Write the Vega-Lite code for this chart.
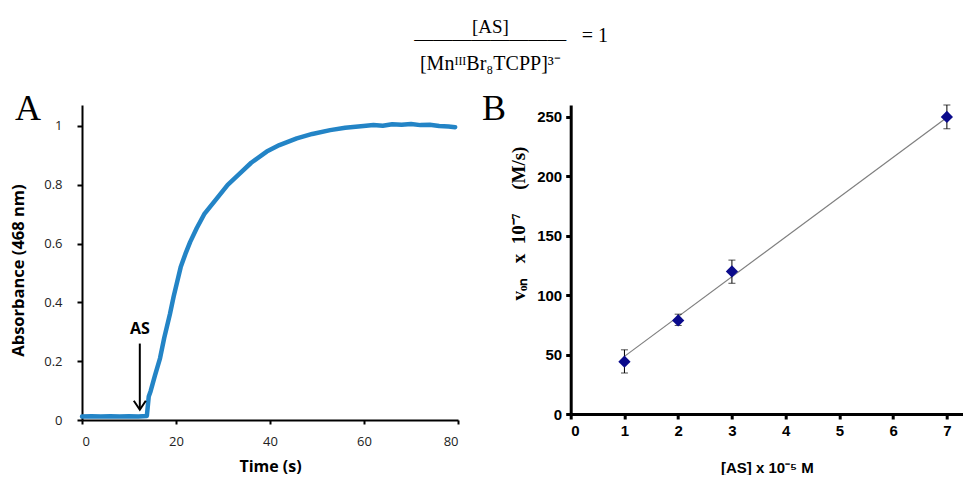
{
  "$schema": "https://vega.github.io/schema/vega-lite/v6.json",
  "background": "white",
  "padding": {"left": 10, "top": 17, "right": 0, "bottom": 0},
  "config": {"view": {"stroke": null}, "axis": {"grid": false}},
  "title": {"text": "= 1", "font": "Liberation Serif", "fontSize": 20, "fontWeight": "normal", "color": "black", "anchor": "middle", "frame": "bounds", "dx": 108, "dy": 28, "offset": 0},
  "vconcat": [
    {
      "bounds": "flush",
      "spacing": 112.7,
      "title": {
        "text": ["[AS]", "————————"],
        "subtitle": "[MnᴵᴵᴵBr₈TCPP]³⁻",
        "font": "Liberation Serif",
        "fontSize": 19,
        "fontWeight": "normal",
        "color": "black",
        "lineHeight": 12,
        "subtitleFont": "Liberation Serif",
        "subtitleFontSize": 20,
        "subtitleColor": "black",
        "subtitlePadding": 5,
        "anchor": "middle",
        "frame": "bounds",
        "dx": 3.5,
        "offset": 16.7
      },
      "hconcat": [
        {
          "width": 376,
          "height": 315,
          "title": {"text": "A", "font": "Liberation Serif", "fontSize": 36, "fontWeight": "normal", "color": "black", "anchor": "start", "frame": "group", "dx": -67, "dy": 35.5, "offset": -15, "baseline": "alphabetic"},
          "layer": [
            {
              "data": {"values": [
                {"t": 0, "A": 0.012}, {"t": 2, "A": 0.013}, {"t": 4, "A": 0.012}, {"t": 6, "A": 0.013},
                {"t": 8, "A": 0.012}, {"t": 10, "A": 0.013}, {"t": 12, "A": 0.012}, {"t": 13.8, "A": 0.014},
                {"t": 14.2, "A": 0.08}, {"t": 14.6, "A": 0.098}, {"t": 15.5, "A": 0.15}, {"t": 16.6, "A": 0.21},
                {"t": 17.5, "A": 0.28}, {"t": 18.7, "A": 0.36}, {"t": 19.5, "A": 0.42}, {"t": 20.1, "A": 0.46},
                {"t": 21, "A": 0.52}, {"t": 22, "A": 0.565}, {"t": 23, "A": 0.605}, {"t": 24.4, "A": 0.652},
                {"t": 26, "A": 0.7}, {"t": 28.7, "A": 0.754}, {"t": 31, "A": 0.8}, {"t": 33.6, "A": 0.839},
                {"t": 36, "A": 0.875}, {"t": 39.3, "A": 0.913}, {"t": 42, "A": 0.935}, {"t": 45.7, "A": 0.958},
                {"t": 49, "A": 0.973}, {"t": 52.8, "A": 0.986}, {"t": 56, "A": 0.994}, {"t": 59.9, "A": 1.0},
                {"t": 62, "A": 1.003}, {"t": 64, "A": 1.001}, {"t": 66, "A": 1.006}, {"t": 68, "A": 1.004},
                {"t": 70, "A": 1.007}, {"t": 72, "A": 1.003}, {"t": 74, "A": 1.004}, {"t": 76, "A": 1.0},
                {"t": 78, "A": 0.998}, {"t": 79.4, "A": 0.996}
              ]},
              "mark": {"type": "line", "color": "#2384c6", "strokeWidth": 4.5, "strokeCap": "round", "strokeJoin": "round"},
              "encoding": {
                "x": {"field": "t", "type": "quantitative", "scale": {"domain": [0, 80], "nice": false},
                  "axis": {"title": "Time (s)", "values": [0, 20, 40, 60, 80], "domainColor": "black", "domainWidth": 2, "tickColor": "black", "tickWidth": 2, "tickSize": 4,
                    "labelFont": "Open Sans", "labelFontSize": 13, "labelColor": "#222222", "labelPadding": 11,
                    "titleFont": "Open Sans", "titleFontSize": 16, "titleFontWeight": "bold", "titleColor": "black", "titlePadding": 10}},
                "y": {"field": "A", "type": "quantitative", "scale": {"domain": [0, 1.0714], "nice": false},
                  "axis": {"title": "Absorbance (468 nm)", "values": [0, 0.2, 0.4, 0.6, 0.8, 1], "format": "~g", "domainColor": "black", "domainWidth": 2, "tickColor": "black", "tickWidth": 2, "tickSize": 5,
                    "labelFont": "Open Sans", "labelFontSize": 13, "labelColor": "#222222", "labelPadding": 15,
                    "titleFont": "Open Sans", "titleFontSize": 16.5, "titleFontWeight": "bold", "titleColor": "black", "titlePadding": 17, "titleY": 165}}
              }
            },
            {
              "data": {"values": [{}]},
              "mark": {"type": "rule", "strokeWidth": 2, "color": "black"},
              "encoding": {"x": {"datum": 12.3}, "y": {"datum": 0.26}, "y2": {"datum": 0.04}}
            },
            {
              "data": {"values": [{}]},
              "mark": {"type": "point", "shape": "M -1 -1.5 L 0 0 L 1 -1.5", "filled": false, "stroke": "black", "strokeWidth": 2, "size": 144, "opacity": 1},
              "encoding": {"x": {"datum": 12.3}, "y": {"datum": 0.035}}
            },
            {
              "data": {"values": [{}]},
              "mark": {"type": "text", "text": "AS", "font": "Open Sans", "fontSize": 16, "fontWeight": "bold", "baseline": "middle", "color": "black"},
              "encoding": {"x": {"datum": 12.3}, "y": {"datum": 0.31}}
            }
          ]
        },
        {
          "width": 392.3,
          "height": 309,
          "title": {"text": "B", "font": "Liberation Serif", "fontSize": 36, "fontWeight": "normal", "color": "black", "anchor": "start", "frame": "group", "dx": -88.7, "dy": 36.8, "offset": -14.3, "baseline": "alphabetic"},
          "data": {"values": [
            {"x": 1, "v": 44, "lo": 34.5, "hi": 54},
            {"x": 2, "v": 78.7, "lo": 74.5, "hi": 84},
            {"x": 3, "v": 120, "lo": 110, "hi": 129.5},
            {"x": 7, "v": 250, "lo": 240, "hi": 260}
          ]},
          "encoding": {
            "x": {"field": "x", "type": "quantitative", "scale": {"domain": [0, 7.3], "nice": false},
              "axis": {"title": "[AS] x 10⁻⁵ M", "values": [0, 1, 2, 3, 4, 5, 6, 7], "domainColor": "black", "domainWidth": 3, "tickColor": "black", "tickWidth": 3, "tickSize": 5,
                "labelFont": "Liberation Sans", "labelFontSize": 15, "labelFontWeight": "bold", "labelColor": "black", "labelPadding": 4,
                "titleFont": "Liberation Sans", "titleFontSize": 15, "titleFontWeight": "bold", "titleColor": "black", "titlePadding": 22}}
          },
          "layer": [
            {
              "data": {"values": [{"x": 1, "fit": 48.5}, {"x": 7, "fit": 249.5}]},
              "mark": {"type": "line", "color": "#7f7f7f", "strokeWidth": 1.2},
              "encoding": {"y": {"field": "fit", "type": "quantitative", "title": "vₒₙ\u00a0\u00a0\u00a0x\u00a0\u00a010⁻⁷\u00a0\u00a0\u00a0\u00a0\u00a0(M/s)"}}
            },
            {
              "mark": {"type": "errorbar", "color": "black", "thickness": 1, "ticks": {"size": 7, "color": "black", "thickness": 1}},
              "encoding": {"y": {"field": "lo", "type": "quantitative", "title": "vₒₙ\u00a0\u00a0\u00a0x\u00a0\u00a010⁻⁷\u00a0\u00a0\u00a0\u00a0\u00a0(M/s)"}, "y2": {"field": "hi"}}
            },
            {
              "mark": {"type": "point", "shape": "diamond", "filled": true, "color": "#0b0b8c", "size": 150, "opacity": 1},
              "encoding": {
                "y": {"field": "v", "type": "quantitative", "title": "vₒₙ\u00a0\u00a0\u00a0x\u00a0\u00a010⁻⁷\u00a0\u00a0\u00a0\u00a0\u00a0(M/s)", "scale": {"domain": [0, 260], "nice": false},
                  "axis": {"values": [0, 50, 100, 150, 200, 250], "domainColor": "black", "domainWidth": 3, "tickColor": "black", "tickWidth": 3, "tickSize": 5,
                    "labelFont": "Liberation Sans", "labelFontSize": 15, "labelFontWeight": "bold", "labelColor": "black", "labelPadding": 4,
                    "titleFont": "Liberation Serif", "titleFontSize": 19, "titleFontWeight": "bold", "titleColor": "black", "titlePadding": 8, "titleY": 118}}
              }
            }
          ]
        }
      ]
    }
  ]
}
